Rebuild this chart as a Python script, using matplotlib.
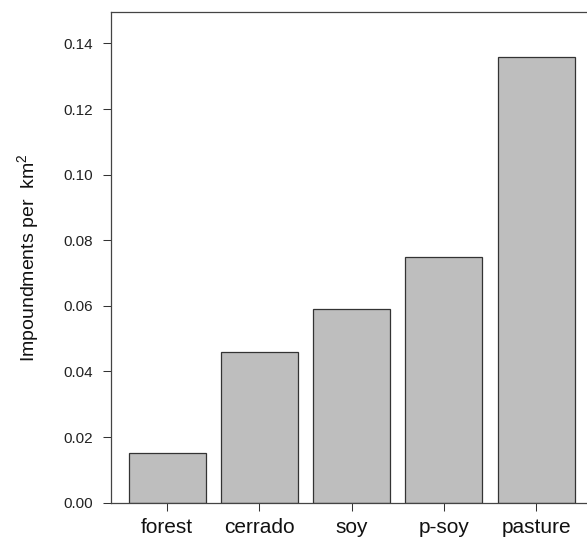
import matplotlib
matplotlib.use("Agg")
import matplotlib.pyplot as plt
import numpy as np

plt.rcParams['font.family'] = ['Liberation Sans', 'DejaVu Sans']
plt.rcParams['mathtext.fontset'] = 'custom'
plt.rcParams['mathtext.rm'] = 'Liberation Sans'
plt.rcParams['mathtext.it'] = 'Liberation Sans'
plt.rcParams['mathtext.default'] = 'regular'

land_use = ["forest", "cerrado", "soy", "p-soy", "pasture"]
impoundments = [0.015, 0.046, 0.059, 0.075, 0.136]
y_ticks = [0.00, 0.02, 0.04, 0.06, 0.08, 0.10, 0.12, 0.14]

W, H = 587, 540
fig = plt.figure(figsize=(W / 100, H / 100), dpi=100)

# barplot layout: unit-width bars separated by 0.2
width, space = 1.0, 0.2
lefts = space + np.arange(len(land_use)) * (width + space)
centers = lefts + width / 2
xmin, xmax = lefts[0], lefts[-1] + width
pad = 0.04 * (xmax - xmin)

ax_left, ax_top, ax_bottom = 111 / W, 1 - 12 / H, 1 - 502.7 / H
ax_right = 592.4 / W
ax = fig.add_axes([ax_left, ax_bottom, ax_right - ax_left, ax_top - ax_bottom])

ax.bar(lefts, impoundments, width=width, align='edge', color='#bebebe',
       edgecolor='#333333', linewidth=0.9)

ax.set_xlim(xmin - pad, xmax + pad)
ax.set_ylim(0, max(impoundments) * 1.1)

ax.set_yticks(y_ticks)
ax.set_yticklabels([f"{v:.2f}" for v in y_ticks])
ax.set_xticks(centers)
ax.set_xticklabels(land_use)

ax.tick_params(axis='y', length=5.8, width=0.75, pad=7, labelsize=11,
               color='#333333', labelcolor='#222222')
ax.tick_params(axis='x', length=5.8, width=0.75, pad=5.5, labelsize=15,
               color='#333333', labelcolor='#111111')

for side in ['left', 'bottom', 'top', 'right']:
    ax.spines[side].set_linewidth(0.9)
    ax.spines[side].set_color('#444444')

ax.set_ylabel(r"Impoundments per  km$^{2}$", fontsize=14, color='#111111',
              labelpad=16)

fig.savefig("out.png", dpi=100)
